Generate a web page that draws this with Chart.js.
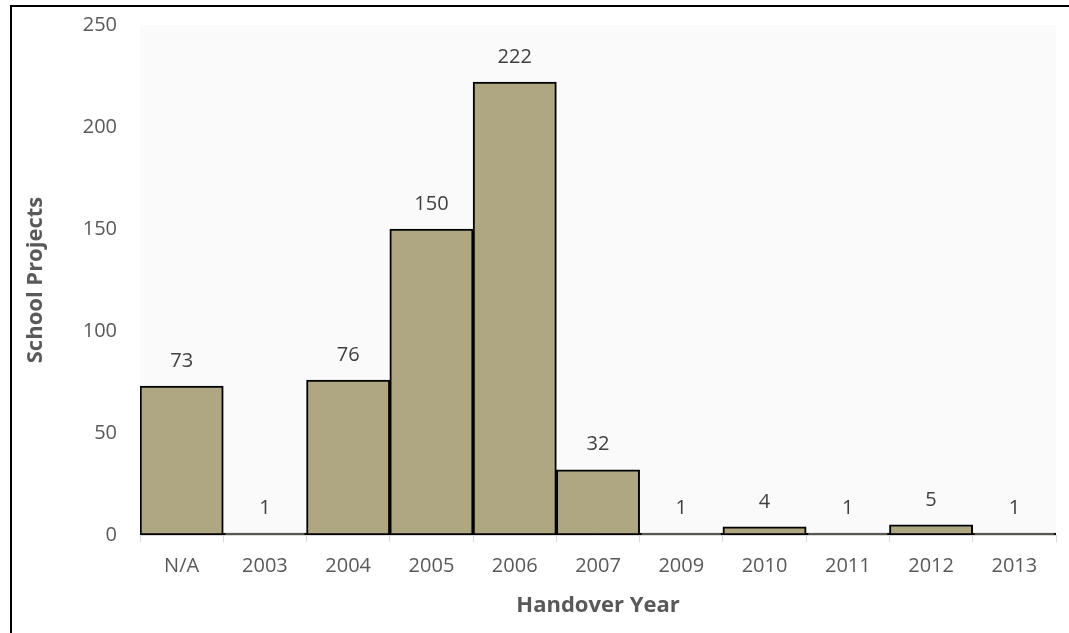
<!DOCTYPE html>
<html>
<head>
<meta charset="utf-8">
<script src="https://cdn.jsdelivr.net/npm/chart.js@4.4.0/dist/chart.umd.min.js"></script>
<style>
    html, body { margin: 0; padding: 0; background: #fff; }
    #wrap { position: relative; width: 1069px; height: 633px; overflow: hidden; }
    #frame { position: absolute; left: 10px; top: 5px; width: 1080px; height: 700px; border-left: 2px solid #000; border-top: 2px solid #000; box-sizing: border-box; pointer-events: none; }
    canvas { position: absolute; left: 0; top: 0; }
</style>
</head>
<body>
<div id="wrap">
    <canvas id="chart" width="1069" height="633"></canvas>
    <div id="frame"></div>
</div>
<script>
const years = ["N/A", "2003", "2004", "2005", "2006", "2007", "2009", "2010", "2011", "2012", "2013"];
const projects = [73, 1, 76, 150, 222, 32, 1, 4, 1, 5, 1];
const yTicks = [0, 50, 100, 150, 200, 250];

const fontFamily = "'Open Sans', sans-serif";

// light grey plot area behind the bars
const plotBackground = {
    id: 'plotBackground',
    beforeDraw(chart) {
        const { ctx, chartArea } = chart;
        ctx.save();
        ctx.fillStyle = '#fafafa';
        ctx.fillRect(chartArea.left, chartArea.top, chartArea.right - chartArea.left, chartArea.bottom - chartArea.top);
        ctx.restore();
    }
};

// value labels above each bar
const valueLabels = {
    id: 'valueLabels',
    afterDatasetsDraw(chart) {
        const { ctx } = chart;
        const meta = chart.getDatasetMeta(0);
        ctx.save();
        ctx.font = `20px ${fontFamily}`;
        ctx.fillStyle = '#404040';
        ctx.textAlign = 'center';
        ctx.textBaseline = 'middle';
        meta.data.forEach((bar, i) => {
            ctx.fillText(String(projects[i]), bar.x, bar.y - 25);
        });
        ctx.restore();
    }
};

new Chart(document.getElementById('chart'), {
    type: 'bar',
    data: {
        labels: years,
        datasets: [{
            data: projects,
            backgroundColor: '#aea782',
            borderColor: '#000',
            borderWidth: 2,
            borderSkipped: false,
            barPercentage: 1,
            categoryPercentage: 1
        }]
    },
    options: {
        responsive: false,
        animation: false,
        layout: { padding: { left: 0, right: 13, top: 25, bottom: 0 } },
        plugins: { legend: { display: false }, tooltip: { enabled: false } },
        scales: {
            x: {
                grid: { display: true, drawOnChartArea: false, drawTicks: true, tickLength: 7, color: '#d9d9d9', offset: true },
                border: { display: true, color: '#d9d9d9', width: 1 },
                ticks: { color: '#595959', font: { family: fontFamily, size: 20 }, padding: 12, maxRotation: 0 },
                title: { display: true, text: 'Handover Year', color: '#595959', font: { family: fontFamily, size: 22, weight: 'bold' }, padding: { top: 0, bottom: 14 } },
                afterFit(axis) { axis.height = 98; }
            },
            y: {
                min: 0,
                max: 250,
                afterBuildTicks(axis) { axis.ticks = yTicks.map(v => ({ value: v })); },
                // hidden tick marks push the labels out; tick padding would also pad the plot top
                grid: { display: false, drawTicks: true, tickLength: 23 },
                border: { display: false },
                ticks: { color: '#595959', font: { family: fontFamily, size: 20 }, padding: 0 },
                title: { display: true, text: 'School Projects', color: '#595959', font: { family: fontFamily, size: 22, weight: 'bold' }, padding: { top: 23, bottom: 0 } },
                afterFit(axis) { axis.width = 140; }
            }
        }
    },
    plugins: [plotBackground, valueLabels]
});
</script>
</body>
</html>
